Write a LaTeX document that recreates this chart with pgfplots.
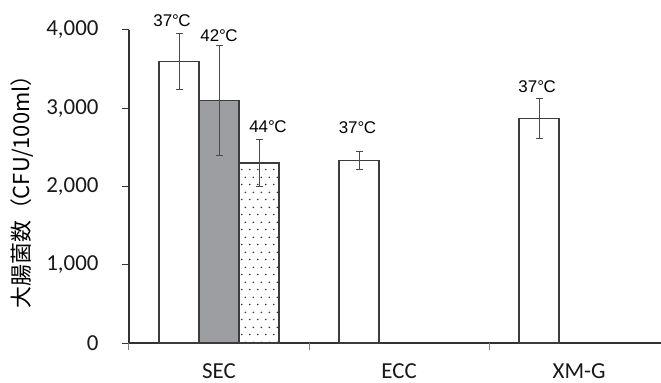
\documentclass[border=0pt]{standalone}
\usepackage{fontspec}
\setmainfont{Carlito}
\newfontfamily\jp{Noto Sans CJK JP}
\newfontfamily\lab{Liberation Sans}
\usepackage{pgfplots}
\pgfplotsset{compat=1.18}
\usetikzlibrary{patterns}
\pgfdeclarepatternformonly{sparsedots}{\pgfqpoint{0bp}{0bp}}{\pgfqpoint{7.5bp}{15bp}}{\pgfqpoint{7.5bp}{15bp}}{%
 \pgfpathcircle{\pgfqpoint{1.9bp}{3.75bp}}{0.9bp}%
 \pgfpathcircle{\pgfqpoint{5.6bp}{11.25bp}}{0.9bp}%
 \pgfusepath{fill}%
}
\definecolor{barline}{HTML}{3C3C3C}
\definecolor{barfill}{HTML}{9D9EA2}
\definecolor{errc}{HTML}{4A4A4A}
\definecolor{axisc}{HTML}{333333}
\begin{document}
\begin{tikzpicture}
\useasboundingbox (-129bp,-40bp) rectangle (532bp,343bp);
\begin{axis}[
  at={(0,0)}, anchor=south west,
  scale only axis, width=532bp, height=313bp,
  xmin=-0.5, xmax=2.455, ymin=0, ymax=4000,
  clip=false,
  axis x line*=bottom, axis y line*=left,
  axis line style={axisc, line width=1.1bp},
  tick align=outside,
  ytick={0,1000,2000,3000,4000},
  ytick style={axisc, line width=1bp},
  major tick length=7bp,
  yticklabel style={font=\fontsize{23}{23}\selectfont, color=black!90, xshift=-20bp},
  /pgf/number format/assume math mode=true,
  /pgf/number format/1000 sep={,},
  xtick={0,1,2}, xticklabels={SEC,ECC,XM-G},
  xticklabel style={font=\fontsize{23}{23}\selectfont, color=black!90, anchor=base, yshift=-28bp},
  x tick style={draw=none},
  extra x ticks={-0.5,0.5,1.5},
  extra x tick labels={},
  extra x tick style={x tick style={draw=gray, line width=1bp}, major tick length=7bp},
  every axis y label/.style={at={(axis description cs:0,0.5)}, xshift=-107bp, rotate=90, anchor=center},
  ylabel={\jp\fontsize{22}{22}\selectfont 大腸菌数（CFU/100ml）},
  ybar, bar width=40bp,
  error bars/error bar style={errc, line width=0.8bp},
  error bars/error mark options={rotate=90, mark size=3.5bp, line width=0.8bp, errc},
]
\addplot[fill=white, draw=barline, line width=1.2bp, bar shift=-40bp,
  error bars/.cd, y dir=both, y explicit]
  coordinates {(0,3600) +- (0,355) (1,2330) +- (0,115) (2,2865) +- (0,255)};
\addplot[fill=barfill, draw=barline, line width=1.2bp, bar shift=0bp,
  error bars/.cd, y dir=both, y explicit]
  coordinates {(0,3100) +- (0,700)};
\addplot[pattern=sparsedots, pattern color=black!80, draw=barline, line width=1.2bp, bar shift=40bp,
  error bars/.cd, y dir=both, y explicit]
  coordinates {(0,2300) +- (0,300)};
\node[anchor=base, font=\lab\fontsize{17}{17}\selectfont] at (axis cs:-0.261,4051) {37°\kern-0.5pt C};
\node[anchor=base, font=\lab\fontsize{17}{17}\selectfont] at (axis cs:0,3847) {42°\kern-0.5pt C};
\node[anchor=base, font=\lab\fontsize{17}{17}\selectfont] at (axis cs:0.272,2684) {44°\kern-0.5pt C};
\node[anchor=base, font=\lab\fontsize{17}{17}\selectfont] at (axis cs:0.769,2671) {37°\kern-0.5pt C};
\node[anchor=base, font=\lab\fontsize{17}{17}\selectfont] at (axis cs:1.767,3199) {37°\kern-0.5pt C};
\end{axis}
\end{tikzpicture}
\end{document}
